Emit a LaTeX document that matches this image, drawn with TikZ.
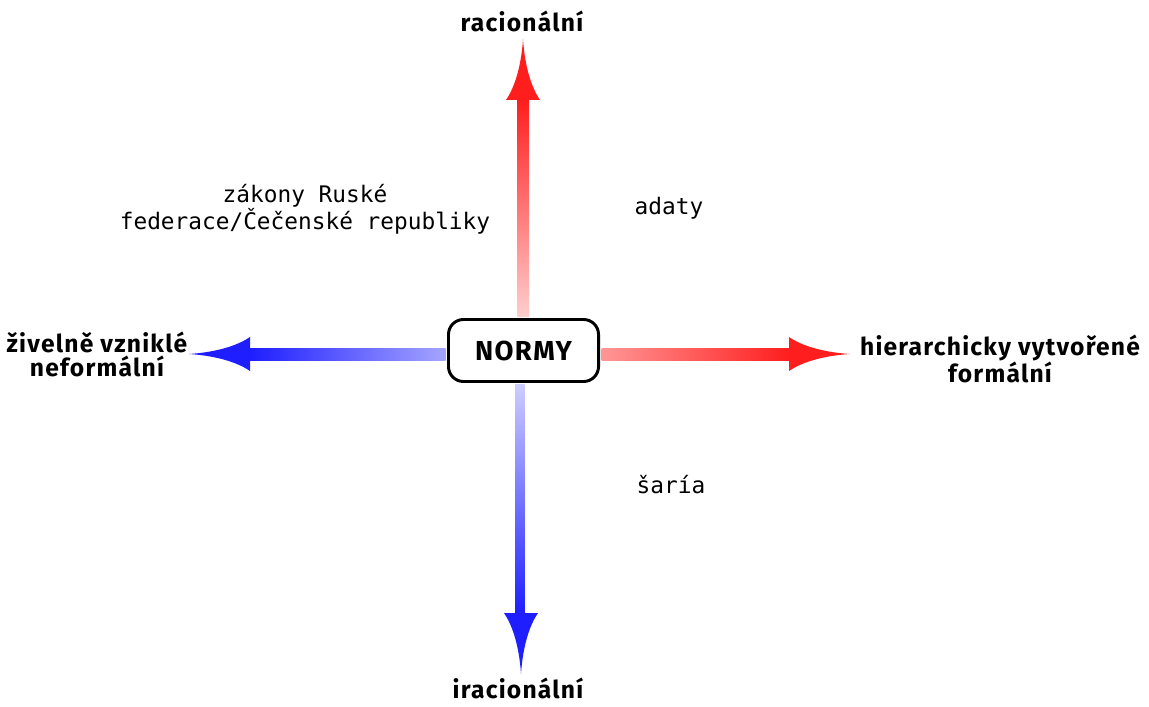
\documentclass[tikz,border=0pt]{standalone}
\usepackage{fontspec}
\setmonofont{DejaVu Sans Mono}
\newfontfamily\axisfont{Fira Sans}[LetterSpace=5]
\usetikzlibrary{calc}

\definecolor{redfull}{RGB}{255,30,30}
\definecolor{redpale}{RGB}{255,205,205}
\definecolor{redlight}{RGB}{255,150,150}
\definecolor{bluefull}{RGB}{30,30,255}
\definecolor{bluepale}{RGB}{205,205,255}
\definecolor{bluelight}{RGB}{165,165,255}

\begin{document}
\begin{tikzpicture}[x=0.025cm,y=0.025cm,
	axis/.style={font=\axisfont\bfseries\fontsize{17.5}{17}\selectfont,align=center},
	note/.style={font=\ttfamily\fontsize{16.2}{19}\selectfont,align=center},
	spike/.pic={\fill[pic actions] (-17,0) .. controls (-10,10) and (-2,30) .. (0,61) .. controls (2,30) and (10,10) .. (17,0) -- cycle;}]
			\useasboundingbox (0,0) rectangle (1149,706);
			\draw (523.5,355.5) node [draw,line width=2.1pt,rounded corners=0.375cm,minimum width=3.75cm,minimum height=1.55cm,inner sep=0pt,font=\axisfont\bfseries\fontsize{19.5}{20}\selectfont] (normy) {NORMY};
			% axis labels
			\draw (522,674) node [axis,anchor=base] (rac) {racionální};
			\draw (518,8) node [axis,anchor=base] (irac) {iracionální};
			\draw (97,352) node [axis] (ziv) {živelně vzniklé\\neformální};
			\draw (1000,347) node [axis] (hier) {hierarchicky vytvořené\\formální};
			% notes
			\draw (305,497) node [note] (zak) {zákony Ruské\\federace/Čečenské republiky};
			\draw (669,491) node [note,anchor=base] (adat) {adaty};
			\draw (671,213) node [note,anchor=base] (sar) {šaría};
			% arrows
			\coordinate (nbase) at (523,606);
			\coordinate (sbase) at (521,93);
			\coordinate (wbase) at (250,352);
			\coordinate (ebase) at (789,352);
			\shade[bottom color=redpale,top color=redfull] ($(normy.north)+(-6,1.5)$) rectangle ($(nbase)+(6,0)$);
			\shade[top color=bluepale,bottom color=bluefull] ($(normy.south)+(-8.5,-1.5)$) rectangle ($(sbase)+(3.5,0)$);
			\shade[right color=bluelight,left color=bluefull] ($(normy.west)+(-1.5,-9.5)$) rectangle ($(wbase)+(0,6)$);
			\shade[left color=redlight,right color=redfull] ($(normy.east)+(1.5,-9.5)$) rectangle ($(ebase)+(0,6)$);
			\pic[fill=redfull] at (nbase) {spike};
			\pic[fill=bluefull,rotate=180] at (sbase) {spike};
			\pic[fill=bluefull,rotate=90] at (wbase) {spike};
			\pic[fill=redfull,rotate=-90] at (ebase) {spike};
		\end{tikzpicture}
\end{document}
